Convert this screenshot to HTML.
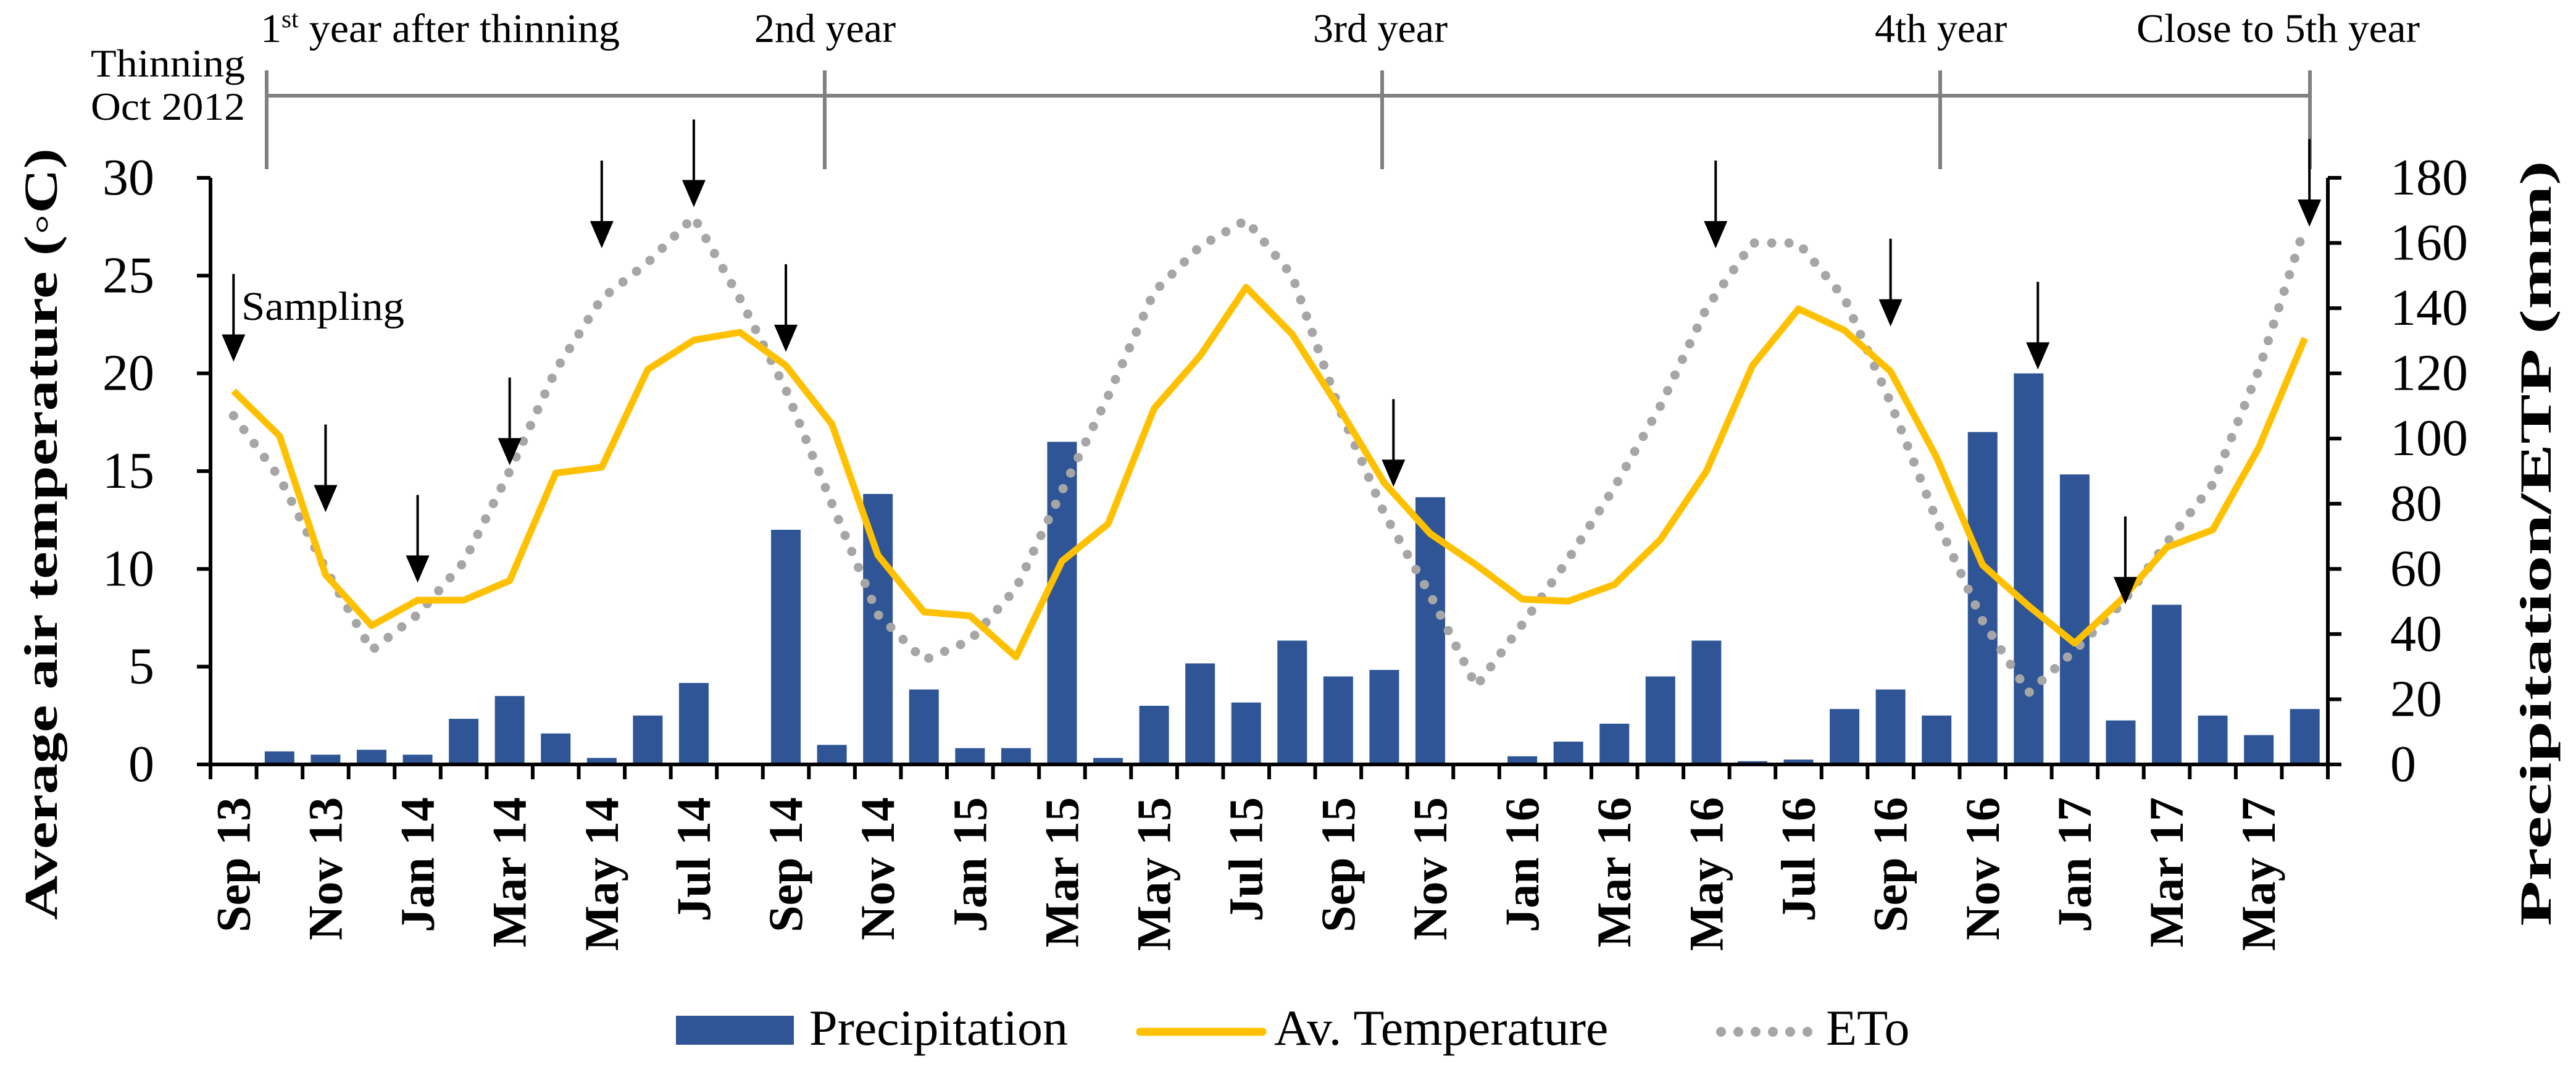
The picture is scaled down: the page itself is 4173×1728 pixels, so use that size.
<!DOCTYPE html>
<html><head><meta charset="utf-8"><style>
html,body{margin:0;padding:0;background:#fff;}
svg{display:block;font-family:"Liberation Serif",serif;}
</style></head><body>
<svg id="chart" width="4173" height="1728" viewBox="0 0 4173 1728" xmlns="http://www.w3.org/2000/svg">
<g id="timeline" stroke="#808080" stroke-width="6" fill="none">
  <line x1="432" y1="155" x2="3742" y2="155"/>
  <line x1="432" y1="114" x2="432" y2="274"/>
  <line x1="1336" y1="114" x2="1336" y2="274"/>
  <line x1="2239" y1="114" x2="2239" y2="274"/>
  <line x1="3143" y1="114" x2="3143" y2="274"/>
  <line x1="3742" y1="114" x2="3742" y2="274"/>
</g>
<g font-size="66" fill="#000">
  <text x="422" y="68" textLength="582" lengthAdjust="spacingAndGlyphs">1<tspan font-size="40" dy="-24">st</tspan><tspan dy="24"> year after thinning</tspan></text>
  <text x="1222" y="68">2nd year</text>
  <text x="2127" y="68">3rd year</text>
  <text x="3037" y="68">4th year</text>
  <text x="3461" y="68" textLength="459" lengthAdjust="spacingAndGlyphs">Close to 5th year</text>
  <text x="147" y="124" font-size="64" textLength="250" lengthAdjust="spacingAndGlyphs">Thinning</text>
  <text x="147" y="194" font-size="64" textLength="250" lengthAdjust="spacingAndGlyphs">Oct 2012</text>
  <text x="391" y="518" font-size="66" textLength="264" lengthAdjust="spacingAndGlyphs">Sampling</text>
</g>
<g id="plot"></g>
<text transform="translate(92,865) rotate(-90)" text-anchor="middle" font-size="76" font-weight="bold" textLength="1250" lengthAdjust="spacingAndGlyphs">Average air temperature (◦C)</text>
<text transform="translate(4132,880) rotate(-90)" text-anchor="middle" font-size="72" font-weight="bold" textLength="1240" lengthAdjust="spacingAndGlyphs">Precipitation/ETP (mm)</text>
<g id="legend">
  <g>
    <rect x="1095" y="1645" width="191" height="47" fill="#2f5597"/>
    <text x="1311" y="1692" font-size="82">Precipitation</text>
  </g>
  <g>
    <line x1="1847" y1="1671" x2="2045" y2="1671" stroke="#ffc000" stroke-width="13" stroke-linecap="round"/>
    <text x="2064" y="1692" font-size="82">Av. Temperature</text>
  </g>
  <g>
    <line x1="2788" y1="1671" x2="2935" y2="1671" stroke="#a6a6a6" stroke-width="16" stroke-linecap="round" stroke-dasharray="0 28"/>
    <text x="2958" y="1692" font-size="82">ETo</text>
  </g>
</g>
</svg>
<script>
const categories = ["Sep 13","Oct 13","Nov 13","Dec 13","Jan 14","Feb 14","Mar 14","Apr 14","May 14","Jun 14","Jul 14","Aug 14","Sep 14","Oct 14","Nov 14","Dec 14","Jan 15","Feb 15","Mar 15","Apr 15","May 15","Jun 15","Jul 15","Aug 15","Sep 15","Oct 15","Nov 15","Dec 15","Jan 16","Feb 16","Mar 16","Apr 16","May 16","Jun 16","Jul 16","Aug 16","Sep 16","Oct 16","Nov 16","Dec 16","Jan 17","Feb 17","Mar 17","Apr 17","May 17","Jun 17"];
const precipitation = [0,4,3,4.5,3,14,21,9.5,2,15,25,0,72,6,83,23,5,5,99,2,18,31,19,38,27,29,82,0,2.5,7,12.5,27,38,1,1.5,17,23,15,102,120,89,13.5,49,15,9,17];
const temperature = [19.1,16.8,9.7,7.1,8.4,8.4,9.4,14.9,15.2,20.2,21.7,22.1,20.4,17.4,10.7,7.8,7.6,5.5,10.4,12.3,18.2,20.9,24.4,22.0,18.3,14.4,11.8,10.2,8.45,8.35,9.2,11.5,15.0,20.4,23.3,22.2,20.1,15.7,10.2,8.1,6.2,8.4,11.1,12.0,16.2,21.8];
const eto = [107,88,60,35,46,62,90,121,143,154,168,143,115,80,46,32,38,54,84,113,145,159,167,150,110,77,52,24,43,63,85,110,140,160,160,143,111,75,44,22,35,49,68,86,121,165];
const leftTicks = [0,5,10,15,20,25,30];
const rightTicks = [0,20,40,60,80,100,120,140,160,180];
const arrowIndex = [0,2,4,6,8,10,12,25.2,32.2,36,39.2,41.1,45.1];
const arrowTipTemp = [20.6,12.9,9.3,15.3,26.4,28.5,21.1,14.2,26.4,22.4,20.2,8.2,27.5];

const NS="http://www.w3.org/2000/svg";
const plot=document.getElementById('plot');
const X0=341,X1=3771,Y0=1238,Y1=288;
const bw=(X1-X0)/categories.length;
function xc(i){return X0+bw*(i+0.5);}
function yT(v){return Y0-(v/30)*(Y0-Y1);}
function yP(v){return Y0-(v/180)*(Y0-Y1);}
function mk(tag,attrs,parent){const e=document.createElementNS(NS,tag);for(const k in attrs)e.setAttribute(k,attrs[k]);(parent||plot).appendChild(e);return e;}

precipitation.forEach((v,i)=>{
  const r=mk('rect',{x:xc(i)-24,y:yP(v),width:48,height:Y0-yP(v),fill:'#2f5597'});
  
  
});
const ep=mk('polyline',{points:eto.map((v,i)=>xc(i)+','+yP(v)).join(' '),fill:'none',stroke:'#a6a6a6','stroke-width':15,'stroke-linecap':'round','stroke-dasharray':'0 28'});


const tp=mk('polyline',{points:temperature.map((v,i)=>xc(i)+','+yT(v)).join(' '),fill:'none',stroke:'#ffc000','stroke-width':11,'stroke-linejoin':'round'});



const ax=mk('path',{d:`M${X0},${Y1} V${Y0} H${X1} V${Y1}`,fill:'none',stroke:'#000','stroke-width':6});


for(let k=0;k<=categories.length;k++){
  const x=X0+bw*k;
  const t=mk('line',{x1:x,y1:Y0,x2:x,y2:Y0+24,stroke:'#000','stroke-width':6});
  
  
}
categories.forEach((c,i)=>{
  if(i%2) return;
  const t=mk('text',{transform:`translate(${xc(i)+26},1291) rotate(-90)`,'text-anchor':'end','font-size':78,'font-weight':'bold'});
  t.textContent=c;
  
  
});
leftTicks.forEach(v=>{
  const y=yT(v);
  const l=mk('line',{x1:X0-22,y1:y,x2:X0,y2:y,stroke:'#000','stroke-width':6});
  
  
  const t=mk('text',{x:250,y:y+27,'text-anchor':'end','font-size':84});
  t.textContent=v;
  
  
});
rightTicks.forEach(v=>{
  const y=yP(v);
  const l=mk('line',{x1:X1,y1:y,x2:X1+22,y2:y,stroke:'#000','stroke-width':6});
  
  
  const t=mk('text',{x:3872,y:y+27,'font-size':84});
  t.textContent=v;
  
  
});
arrowIndex.forEach((ai,k)=>{
  const x=xc(ai),tip=yT(arrowTipTemp[k]);
  const l=mk('line',{x1:x,y1:tip-142,x2:x,y2:tip-40,stroke:'#000','stroke-width':4});
  
  
  const p=mk('polygon',{points:`${x-19},${tip-44} ${x+19},${tip-44} ${x},${tip}`,fill:'#000'});
  
  
});
</script>
</body></html>
